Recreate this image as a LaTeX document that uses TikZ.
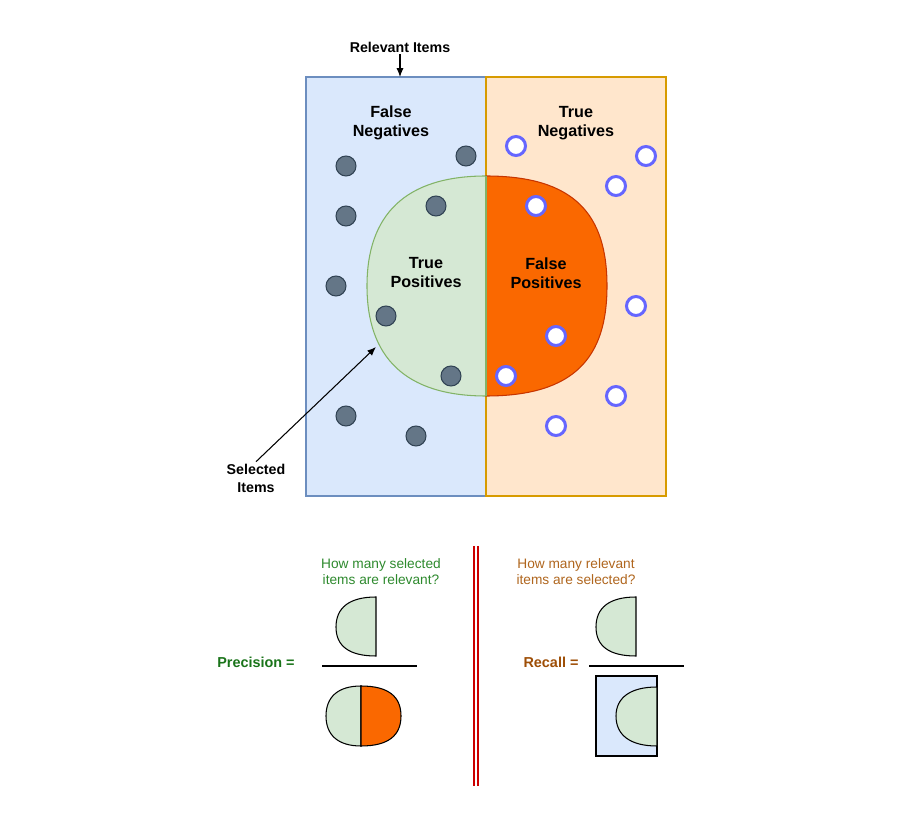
\documentclass[tikz,border=0pt]{standalone}
\usepackage{fontspec}
\setmainfont{Liberation Sans}
\usepackage{xcolor}
\usepackage{tikz}
\usetikzlibrary{arrows.meta}
\definecolor{fnfill}{HTML}{DAE8FC}
\definecolor{fnedge}{HTML}{6C8EBF}
\definecolor{tnfill}{HTML}{FFE6CC}
\definecolor{tnedge}{HTML}{D79B00}
\definecolor{tpfill}{HTML}{D5E8D4}
\definecolor{tpedge}{HTML}{82B366}
\definecolor{fpfill}{HTML}{FA6800}
\definecolor{fpedge}{HTML}{C73500}
\definecolor{dotfill}{HTML}{647687}
\definecolor{dotedge}{HTML}{314354}
\definecolor{ringblue}{HTML}{6666FF}
\definecolor{precgreen}{HTML}{1A741A}
\definecolor{questgreen}{HTML}{2E8A2E}
\definecolor{recbrown}{HTML}{9E4E06}
\definecolor{questbrown}{HTML}{B0661E}
\definecolor{splitred}{HTML}{CC0000}

\begin{document}
\begin{tikzpicture}[x=0.02cm, y=-0.02cm,
    area/.style={font=\bfseries\fontsize{9.2}{10.8}\selectfont, align=center},
    note/.style={font=\bfseries\fontsize{8.1}{10.2}\selectfont, align=center, inner sep=1pt},
    quest/.style={font=\fontsize{7.8}{9.1}\selectfont, align=center},
    relitem/.style={circle, draw=dotedge, fill=dotfill, line width=0.6pt, minimum size=0.4cm, inner sep=0pt},
    negitem/.style={circle, draw=ringblue, fill=white, line width=1.7pt, minimum size=0.38cm, inner sep=0pt},
    part/.style={draw=black, line width=0.6pt}]
    \useasboundingbox (0,0) rectangle (900,827);
    \fill[white] (0,0) rectangle (900,827);

    % relevant / not relevant halves
    \draw[draw=fnedge, fill=fnfill, line width=0.6pt] (306,77) rectangle (486,496);
    \draw[draw=tnedge, fill=tnfill, line width=0.6pt] (486,77) rectangle (666,496);

    % selected items
    \draw[draw=tpedge, fill=tpfill, line width=0.6pt] (486,176) .. controls (405,176) and (367,215) .. (367,286)
        .. controls (367,357) and (405,396) .. (486,396) -- cycle;
    \draw[draw=fpedge, fill=fpfill, line width=0.6pt] (486,176) .. controls (575,176) and (607,215) .. (607,286)
        .. controls (607,357) and (575,396) .. (486,396) -- cycle;
    \draw[tpedge, line width=0.6pt] (486,176) -- (486,396);

    \node[area] (fn) at (391,123) {False\\Negatives};
    \node[area] (tn) at (576,123) {True\\Negatives};
    \node[area] (tp) at (426,273) {True\\Positives};
    \node[area] (fp) at (546,273) {False\\Positives};

    % relevant items
    \node[relitem] (r1) at (346,166) {};
    \node[relitem] (r2) at (466,156) {};
    \node[relitem] (r3) at (346,216) {};
    \node[relitem] (r4) at (436,206) {};
    \node[relitem] (r5) at (336,286) {};
    \node[relitem] (r6) at (386,316) {};
    \node[relitem] (r7) at (451,376) {};
    \node[relitem] (r8) at (346,416) {};
    \node[relitem] (r9) at (416,436) {};

    % not relevant items
    \node[negitem] (n1) at (516,146) {};
    \node[negitem] (n2) at (646,156) {};
    \node[negitem] (n3) at (616,186) {};
    \node[negitem] (n4) at (536,206) {};
    \node[negitem] (n5) at (636,306) {};
    \node[negitem] (n6) at (556,336) {};
    \node[negitem] (n7) at (506,376) {};
    \node[negitem] (n8) at (616,396) {};
    \node[negitem] (n9) at (556,426) {};

    % callouts
    \node[note] (relevant) at (400,47) {Relevant Items};
    \coordinate (relevanttop) at (400,77);
    \draw[-{Latex[length=5pt, width=4pt]}, line width=0.6pt] (relevant) -- (relevanttop);
    \node[note] (selected) at (256,478) {Selected\\Items};
    \coordinate (selectededge) at (376,347);
    \draw[-{Latex[length=5pt, width=4pt]}, line width=0.6pt] (selected.north) -- (selectededge);

    % divider
    \coordinate (splitatop) at (474,546);
    \coordinate (splitabot) at (474,786);
    \coordinate (splitbtop) at (478,546);
    \coordinate (splitbbot) at (478,786);
    \draw[splitred, line width=0.7pt] (splitatop) -- (splitabot);
    \draw[splitred, line width=0.7pt] (splitbtop) -- (splitbbot);

    % precision
    \node[quest, text=questgreen] (precq) at (381,572) {How many selected\\items are relevant?};
    \node[note, text=precgreen, font=\bfseries\fontsize{8.2}{10}\selectfont] (prec) at (256,662) {Precision =};
    \draw[part, fill=tpfill] (376,597) .. controls (349,597) and (336,608) .. (336,627)
        .. controls (336,646) and (349,656) .. (376,656) -- cycle;
    \coordinate (precbarl) at (322,666);
    \coordinate (precbarr) at (417,666);
    \draw[line width=0.6pt] (precbarl) -- (precbarr);
    \draw[part, fill=tpfill] (361,686) .. controls (338,686) and (326,697) .. (326,716)
        .. controls (326,735) and (338,746) .. (361,746) -- cycle;
    \draw[part, fill=fpfill] (361,686) .. controls (389,686) and (401,697) .. (401,716)
        .. controls (401,735) and (389,746) .. (361,746) -- cycle;

    % recall
    \node[quest, text=questbrown] (recq) at (576,572) {How many relevant\\items are selected?};
    \node[note, text=recbrown, font=\bfseries\fontsize{8.2}{10}\selectfont] (rec) at (551,662) {Recall =};
    \draw[part, fill=tpfill] (636,597) .. controls (609,597) and (596,608) .. (596,627)
        .. controls (596,646) and (609,656) .. (636,656) -- cycle;
    \coordinate (recbarl) at (589,666);
    \coordinate (recbarr) at (684,666);
    \draw[line width=0.6pt] (recbarl) -- (recbarr);
    \draw[part, fill=fnfill] (596,676) rectangle (657,756);
    \draw[part, fill=tpfill] (657,687) .. controls (630,687) and (616,698) .. (616,716)
        .. controls (616,735) and (630,746) .. (657,746) -- cycle;
\end{tikzpicture}
\end{document}
